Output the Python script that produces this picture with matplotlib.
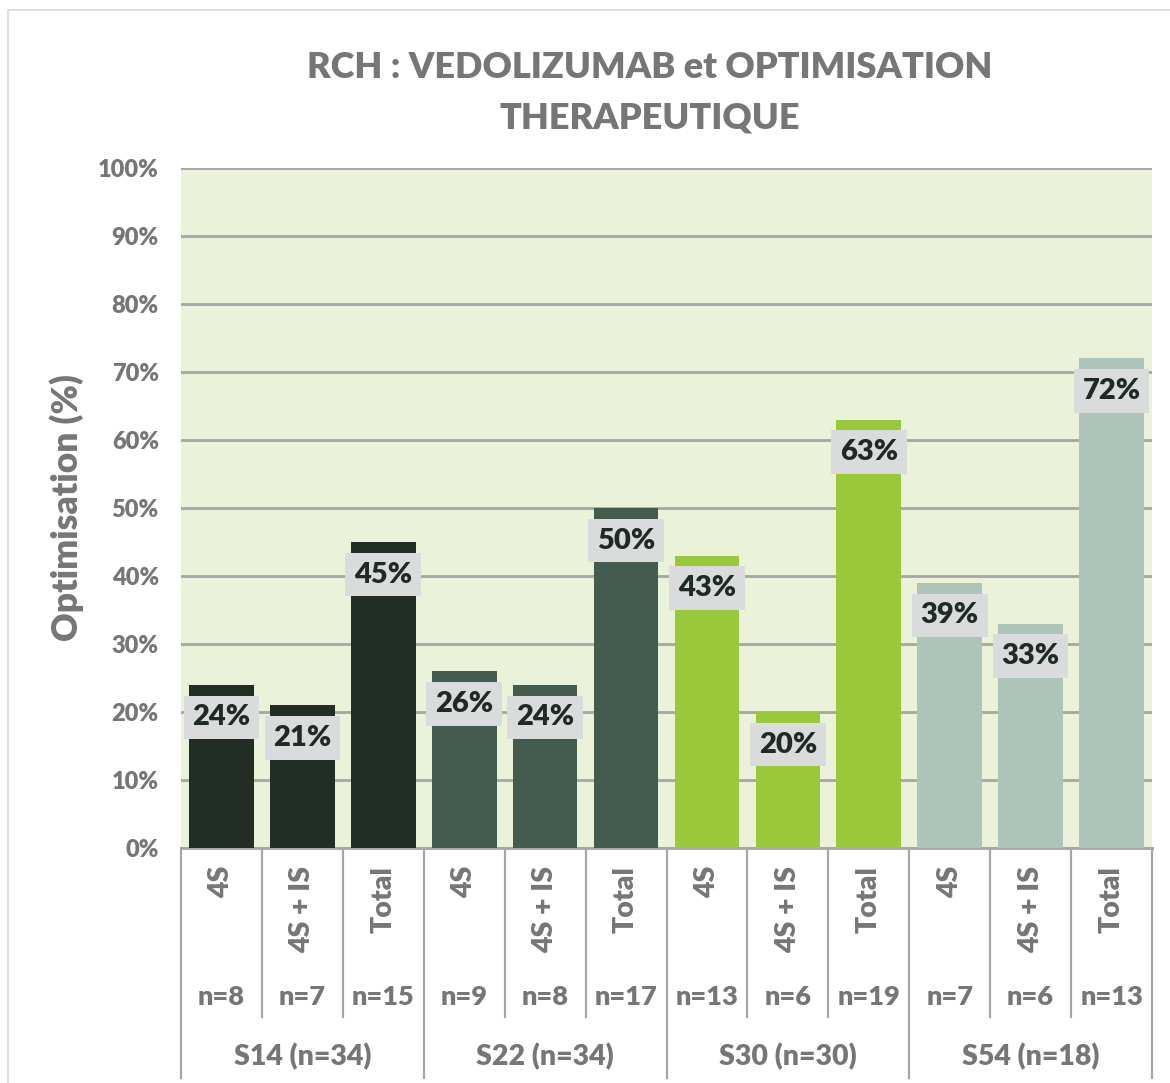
import numpy as np
import matplotlib
matplotlib.use('Agg')
import matplotlib.pyplot as plt
from matplotlib.transforms import blended_transform_factory

# donnees
groupes = ['S14 (n=34)', 'S22 (n=34)', 'S30 (n=30)', 'S54 (n=18)']
sous_cat = ['4S', '4S + IS', 'Total']
effectifs = ['n=8', 'n=7', 'n=15', 'n=9', 'n=8', 'n=17',
             'n=13', 'n=6', 'n=19', 'n=7', 'n=6', 'n=13']
valeurs = [24, 21, 45, 26, 24, 50, 43, 20, 63, 39, 33, 72]
couleurs_groupes = ['#222E25', '#435C4F', '#99C93A', '#ADC4B8']

gris_txt = '#767676'
gris_ligne = '#a6a6a6'
gras = 'heavy'
plt.rcParams['font.family'] = ['Lato', 'DejaVu Sans']

W, H = 1170, 1083
fig = plt.figure(figsize=(W/100, H/100), dpi=100)
x0, x1, ytop, ybot = 181, 1152, 168, 848
ax = fig.add_axes([x0/W, 1-ybot/H, (x1-x0)/W, (ybot-ytop)/H])
ax.set_facecolor('#EAF2DA')

# cadre du graphique
fig.patches.append(plt.Rectangle((8/W, -0.01), 1.1, 1-10/H+0.01, transform=fig.transFigure,
                                 fill=False, edgecolor='#d9d9d9', linewidth=1.2))

n = len(valeurs)
x = np.arange(n)
cols = [couleurs_groupes[i//3] for i in range(n)]
ax.bar(x, np.array(valeurs)/100, width=0.8, color=cols, zorder=3)

ax.set_xlim(-0.5, n-0.5)
ax.set_ylim(0, 1)
ax.set_yticks(np.arange(0, 1.01, 0.1))
ax.set_yticklabels(['%d%%' % v for v in range(0, 101, 10)], fontsize=17,
                   color=gris_txt, fontweight=gras)
ax.tick_params(axis='y', length=0, pad=16)
ax.tick_params(axis='x', length=0, labelbottom=False)
ax.grid(axis='y', color=gris_ligne, linewidth=2, zorder=1)
for s in ['top', 'right', 'left']:
    ax.spines[s].set_visible(False)
ax.spines['bottom'].set_color(gris_ligne)
ax.spines['bottom'].set_linewidth(2)

ax.set_ylabel('Optimisation (%)', fontsize=25.5, color=gris_txt, fontweight=gras, labelpad=10)

# etiquettes des barres
for xi, v in zip(x, valeurs):
    ax.text(xi, v/100 - 0.048, '%d%%' % v, ha='center', va='center', fontsize=21,
            fontweight=gras, color='#1F2A22', zorder=5,
            bbox=dict(boxstyle='square,pad=0.3', facecolor='#DADBDD', edgecolor='none'))

# tableau des categories sous l'axe
tr = blended_transform_factory(ax.transData, ax.transAxes)
def fy(py):
    return (ybot - py) / (ybot - ytop)

for i in range(n):
    ax.text(i, fy(866), sous_cat[i % 3], rotation=90, ha='center', va='top',
            fontsize=20.5, color=gris_txt, fontweight=gras, transform=tr, clip_on=False)
    ax.text(i, fy(997), effectifs[i], ha='center', va='center',
            fontsize=19.5, color=gris_txt, fontweight=gras, transform=tr, clip_on=False)
for g, nom in enumerate(groupes):
    ax.text(g*3+1, fy(1057), nom, ha='center', va='center',
            fontsize=20.5, color=gris_txt, fontweight=gras, transform=tr, clip_on=False)

for b in np.arange(-0.5, n, 1.0):
    fin = 1078 if (b + 0.5) % 3 == 0 else 1017
    ax.plot([b, b], [fy(ybot), fy(fin)], color=gris_ligne, linewidth=1.6,
            transform=tr, clip_on=False)

fig.text(650/W, 1-67/H, 'RCH : VEDOLIZUMAB et OPTIMISATION', ha='center', va='center',
         fontsize=26, color=gris_txt, fontweight=gras)
fig.text(650/W, 1-118/H, 'THERAPEUTIQUE', ha='center', va='center',
         fontsize=26, color=gris_txt, fontweight=gras)

fig.savefig('out.png', dpi=100)
